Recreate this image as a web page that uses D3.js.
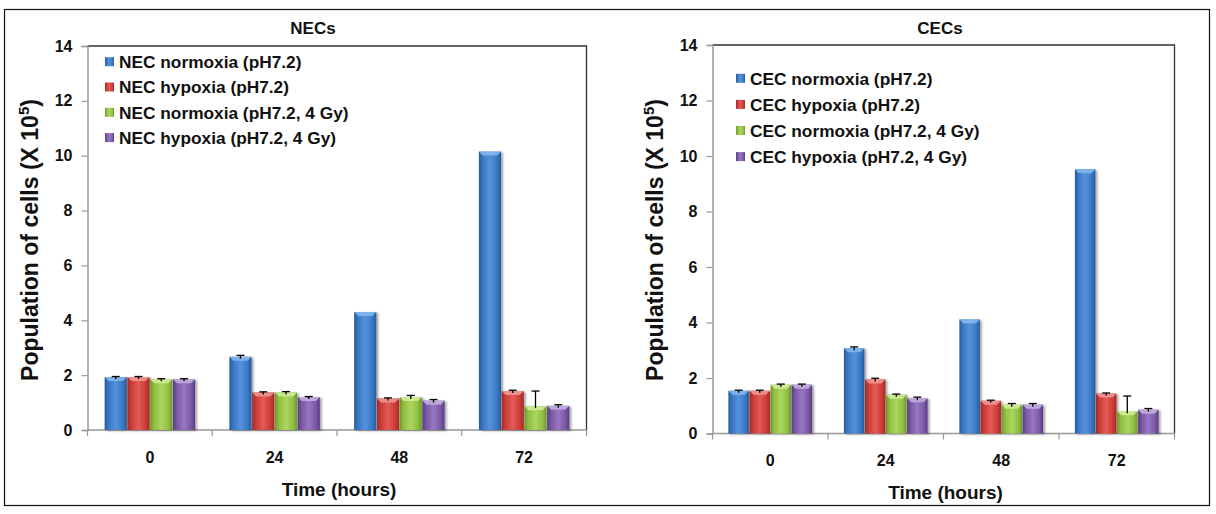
<!DOCTYPE html>
<html>
<head>
<meta charset="utf-8">
<script src="https://cdn.jsdelivr.net/npm/d3@7/dist/d3.min.js"></script>
<style>
  html, body { margin: 0; padding: 0; background: #fff; }
  svg { display: block; }
  text { font-family: "Liberation Sans", Arial, sans-serif; font-weight: bold; fill: #111; }
</style>
</head>
<body>
<svg id="chart" width="1216" height="514"></svg>
<script>
// ---------- DATA ----------
const categories = ["0", "24", "48", "72"];
const yTicks = [0, 2, 4, 6, 8, 10, 12, 14];

const necTitle = "NECs";
const necSeries = ["NEC normoxia (pH7.2)", "NEC hypoxia (pH7.2)", "NEC normoxia (pH7.2, 4 Gy)", "NEC hypoxia (pH7.2, 4 Gy)"];
const necNormoxia      = [1.93, 2.67, 4.30, 10.15];
const necHypoxia       = [1.93, 1.37, 1.15, 1.42];
const necNormoxia4Gy   = [1.85, 1.37, 1.20, 0.87];
const necHypoxia4Gy    = [1.85, 1.20, 1.07, 0.88];
const necNormoxiaErr    = [0.02, 0.05, 0.00, 0.00];
const necHypoxiaErr     = [0.02, 0.02, 0.02, 0.03];
const necNormoxia4GyErr = [0.02, 0.03, 0.06, 0.55];
const necHypoxia4GyErr  = [0.02, 0.02, 0.04, 0.04];

const cecTitle = "CECs";
const cecSeries = ["CEC normoxia (pH7.2)", "CEC hypoxia (pH7.2)", "CEC normoxia (pH7.2, 4 Gy)", "CEC hypoxia (pH7.2, 4 Gy)"];
const cecNormoxia      = [1.54, 3.07, 4.11, 9.52];
const cecHypoxia       = [1.54, 1.95, 1.18, 1.44];
const cecNormoxia4Gy   = [1.76, 1.40, 1.04, 0.80];
const cecHypoxia4Gy    = [1.76, 1.27, 1.04, 0.86];
const cecNormoxiaErr    = [0.02, 0.05, 0.00, 0.00];
const cecHypoxiaErr     = [0.02, 0.04, 0.02, 0.02];
const cecNormoxia4GyErr = [0.02, 0.02, 0.04, 0.55];
const cecHypoxia4GyErr  = [0.02, 0.04, 0.04, 0.04];

const yAxisTitle = "Population of cells (X 10";
const yAxisSup = "5";
const xAxisTitle = "Time (hours)";

// ---------- STYLE ----------
const palette = [
  { dark: "#285a98", mid: "#3a78c4", light: "#5592dc", cap: "#86b8ee" },
  { dark: "#a32a26", mid: "#cc3c37", light: "#e25c56", cap: "#f09a96" },
  { dark: "#6c982a", mid: "#90be42", light: "#acd55e", cap: "#d4ee9c" },
  { dark: "#573d82", mid: "#7a58a5", light: "#9778c1", cap: "#c6b2e2" }
];

const svg = d3.select("#chart");
const defs = svg.append("defs");
palette.forEach((c, i) => {
  const g = defs.append("linearGradient").attr("id", "grad" + i)
    .attr("x1", "0%").attr("x2", "100%").attr("y1", "0%").attr("y2", "0%");
  g.append("stop").attr("offset", "0%").attr("stop-color", c.dark);
  g.append("stop").attr("offset", "18%").attr("stop-color", c.mid);
  g.append("stop").attr("offset", "50%").attr("stop-color", c.light);
  g.append("stop").attr("offset", "82%").attr("stop-color", c.mid);
  g.append("stop").attr("offset", "100%").attr("stop-color", c.dark);
});
const f = defs.append("filter").attr("id", "shadow")
  .attr("x", "-20%").attr("y", "-5%").attr("width", "150%").attr("height", "115%");
f.append("feDropShadow").attr("dx", 2).attr("dy", 1).attr("stdDeviation", 1.3)
  .attr("flood-color", "#000").attr("flood-opacity", 0.35);

// outer figure border
svg.append("rect").attr("x", 4.5).attr("y", 9.5).attr("width", 1205).attr("height", 496)
  .attr("fill", "none").attr("stroke", "#111").attr("stroke-width", 1.2);

function drawPanel(p) {
  const series = p.series;
  const values = p.values;
  const errs = p.errs;

  const x = d3.scaleBand().domain(categories).range([p.x0, p.x1])
    .paddingInner(0.27).paddingOuter(0.135);
  const xs = d3.scaleBand().domain(d3.range(series.length)).range([0, x.bandwidth()]);
  const y = d3.scaleLinear().domain([0, 14]).range([p.yBottom, p.yTop]);

  const g = svg.append("g");

  // plot frame (top & right)
  g.append("path")
    .attr("d", `M${p.x0},${p.yTop}H${p.x1}V${p.yBottom}`)
    .attr("fill", "none").attr("stroke", "#333").attr("stroke-width", 1.3);

  // y axis
  const yAxis = d3.axisLeft(y).tickValues(yTicks).tickSize(6).tickPadding(9);
  const ya = g.append("g").attr("transform", `translate(${p.x0},0)`).call(yAxis);
  ya.select(".domain").attr("stroke", "#999").attr("stroke-width", 1.5);
  ya.selectAll(".tick line").attr("stroke", "#999").attr("stroke-width", 1.2);
  ya.selectAll(".tick text").attr("font-size", 16).attr("fill", "#111")
    .attr("font-family", "Liberation Sans, Arial, sans-serif").attr("font-weight", "bold");

  // x axis: ticks at category boundaries
  const xa = g.append("g").attr("transform", `translate(0,${p.yBottom})`);
  xa.append("line").attr("x1", p.x0).attr("x2", p.x1).attr("stroke", "#999").attr("stroke-width", 1.5);
  const step = x.step();
  const bounds = d3.range(categories.length + 1).map(i => x(categories[0]) - step * 0.135 + i * step);
  xa.selectAll("line.bt").data(bounds).join("line").attr("class", "bt")
    .attr("x1", d => d).attr("x2", d => d).attr("y1", 0).attr("y2", 6)
    .attr("stroke", "#999").attr("stroke-width", 1.2);
  xa.selectAll("text").data(categories).join("text")
    .attr("x", d => x(d) + x.bandwidth() / 2).attr("y", p.xLabelY - p.yBottom)
    .attr("text-anchor", "middle").attr("font-size", 16).text(d => d);

  // bars
  const rows = [];
  categories.forEach((c, ci) => series.forEach((s, si) => {
    rows.push({ c, si, v: values[si][ci], e: errs[si][ci] });
  }));
  const bars = g.append("g");
  const bg = bars.selectAll("g").data(rows).join("g");
  bg.append("rect")
    .attr("x", d => x(d.c) + xs(d.si) + 0.3)
    .attr("y", d => y(d.v))
    .attr("width", xs.bandwidth() - 0.6)
    .attr("height", d => y(0) - y(d.v))
    .attr("fill", d => `url(#grad${d.si})`)
    .attr("filter", "url(#shadow)");
  // bevel cap highlight
  bg.append("path")
    .attr("d", d => {
      const bx = x(d.c) + xs(d.si) + 0.3, bw = xs.bandwidth() - 0.6, ty = y(d.v);
      return `M${bx},${ty}H${bx + bw}L${bx + bw - 4},${ty + 4}H${bx + 4}Z`;
    })
    .attr("fill", d => palette[d.si].cap).attr("opacity", 0.85);

  // error bars
  const eg = g.append("g").attr("stroke", "#000").attr("stroke-width", 1.3);
  rows.filter(d => d.e > 0).forEach(d => {
    const cx = x(d.c) + xs(d.si) + xs.bandwidth() / 2;
    const yt = y(d.v + d.e), yb = y(d.v) + 2;
    eg.append("line").attr("x1", cx).attr("x2", cx).attr("y1", yt).attr("y2", yb);
    eg.append("line").attr("x1", cx - 4).attr("x2", cx + 4).attr("y1", yt).attr("y2", yt);
  });

  // legend
  const lg = g.append("g");
  series.forEach((s, i) => {
    const ly = p.legendY + i * p.legendStep;
    lg.append("rect").attr("x", p.legendX).attr("y", ly - 4.5).attr("width", 9).attr("height", 9)
      .attr("fill", `url(#grad${i})`);
    lg.append("text").attr("x", p.legendX + 14).attr("y", ly).attr("dy", "0.36em")
      .attr("font-size", 17.3).text(s);
  });

  // titles
  g.append("text").attr("x", p.titleX).attr("y", 34).attr("text-anchor", "middle")
    .attr("font-size", 17).text(p.title);
  g.append("text").attr("x", (p.x0 + p.x1) / 2 + 2).attr("y", p.xTitleY).attr("text-anchor", "middle")
    .attr("font-size", 19).text(xAxisTitle);
  const yt = g.append("text")
    .attr("transform", `translate(${p.yTitleX},${p.yTitleY}) rotate(-90)`)
    .attr("text-anchor", "middle").attr("font-size", 23);
  yt.append("tspan").text(yAxisTitle);
  yt.append("tspan").attr("font-size", 15).attr("dy", -9).text(yAxisSup);
  yt.append("tspan").attr("dy", 9).text(")");
}

drawPanel({
  title: necTitle, series: necSeries,
  values: [necNormoxia, necHypoxia, necNormoxia4Gy, necHypoxia4Gy],
  errs: [necNormoxiaErr, necHypoxiaErr, necNormoxia4GyErr, necHypoxia4GyErr],
  x0: 87.5, x1: 586.5, yTop: 46, yBottom: 430,
  xLabelY: 463, xTitleY: 496, titleX: 313,
  yTitleX: 38, yTitleY: 240,
  legendX: 105, legendY: 61.7, legendStep: 25.3
});
drawPanel({
  title: cecTitle, series: cecSeries,
  values: [cecNormoxia, cecHypoxia, cecNormoxia4Gy, cecHypoxia4Gy],
  errs: [cecNormoxiaErr, cecHypoxiaErr, cecNormoxia4GyErr, cecHypoxia4GyErr],
  x0: 712.5, x1: 1174.5, yTop: 45, yBottom: 433.5,
  xLabelY: 466, xTitleY: 499, titleX: 940,
  yTitleX: 663, yTitleY: 240,
  legendX: 736, legendY: 78.3, legendStep: 26.1
});
</script>
</body>
</html>
